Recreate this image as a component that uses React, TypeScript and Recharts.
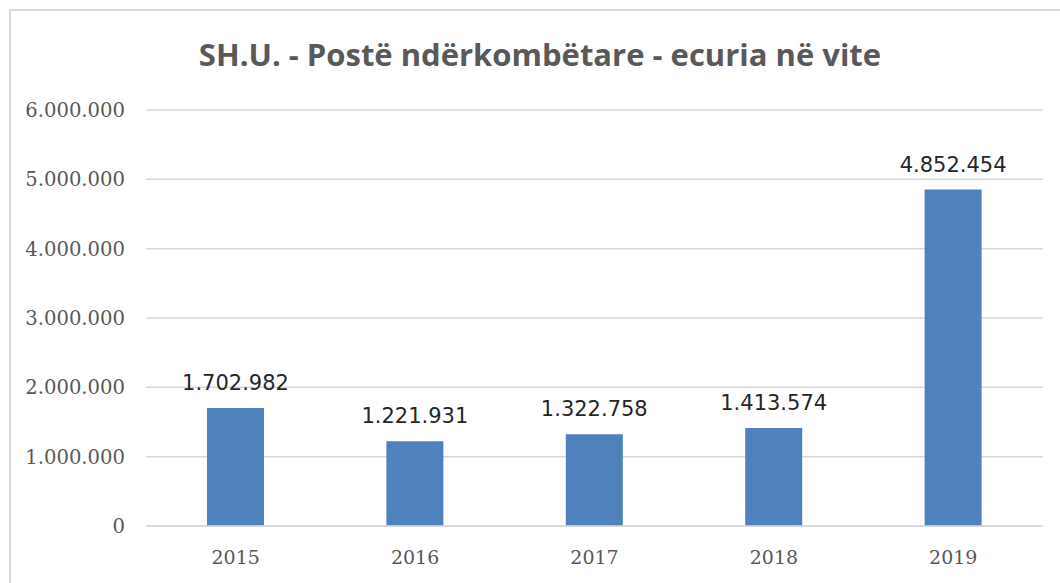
import { Bar, BarChart, CartesianGrid, LabelList, XAxis, YAxis } from "recharts";

const YEARS = ["2015", "2016", "2017", "2018", "2019"];
const VOLUMES = [1702982, 1221931, 1322758, 1413574, 4852454];
const Y_TICKS = [0, 1000000, 2000000, 3000000, 4000000, 5000000, 6000000];

const TITLE = "SH.U. - Postë ndërkombëtare - ecuria në vite";
const GRID = "#d9d9d9";
const AXIS_TEXT = "#595959";
const BAR = "#4f81bd";

// dotted thousands, e.g. 1.702.982
const fmt = (v: number) => String(Math.round(v)).replace(/\B(?=(\d{3})+(?!\d))/g, ".");

const rows = YEARS.map((year, i) => ({ year, value: VOLUMES[i] }));

export default function App() {
  return (
    <div style={{ position: "absolute", left: 0, top: 0, width: 1060, height: 583, background: "#fff", overflow: "hidden" }}>
      <div style={{ position: "absolute", left: 9, top: 9, width: 1080, height: 620, border: "2px solid #d9d9d9", boxSizing: "border-box" }} />
      <div style={{
        position: "absolute", left: 10, width: 1060, top: 33, textAlign: "center",
        fontFamily: "'Open Sans', sans-serif", fontWeight: 700, fontSize: 31, color: AXIS_TEXT,
      }}>{TITLE}</div>
      <div style={{ position: "absolute", left: 0, top: 0 }}>
        <BarChart width={1060} height={583} data={rows} barCategoryGap="34%"
          margin={{ top: 110, right: 17, left: 0, bottom: 57 - 40 }}>
          <CartesianGrid stroke={GRID} vertical={false} strokeWidth={1.5} />
          <XAxis dataKey="year" height={40} stroke={GRID} strokeWidth={1.5} tickLine={false} tickSize={0} tickMargin={25}
            tick={{ fill: AXIS_TEXT, fontSize: 19, fontFamily: "'DejaVu Serif', serif" }} />
          <YAxis width={146} domain={[0, 6000000]} ticks={Y_TICKS} axisLine={false} tickLine={false}
            tickSize={0} tickMargin={21} tickFormatter={fmt} interval={0}
            tick={{ fill: AXIS_TEXT, fontSize: 19.6, fontFamily: "'DejaVu Serif', serif" }} />
          <Bar dataKey="value" fill={BAR} isAnimationActive={false}>
            <LabelList dataKey="value" position="top" offset={18} formatter={(v: number) => fmt(v)}
              style={{ fill: "#262626", fontSize: 21, fontFamily: "'DejaVu Sans', sans-serif" }} />
          </Bar>
        </BarChart>
      </div>
    </div>
  );
}
